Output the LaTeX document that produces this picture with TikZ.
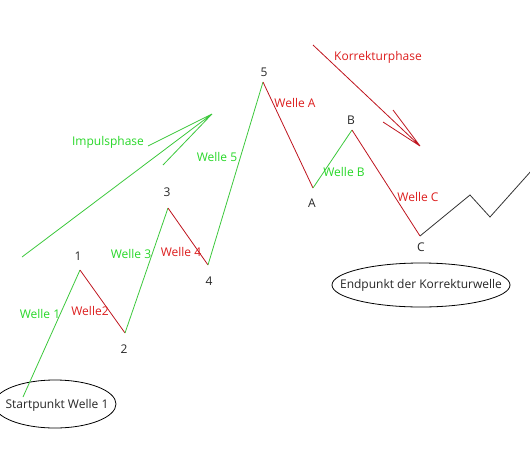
\documentclass[tikz,border=0pt]{standalone}
\usepackage{fontspec}
\setmainfont{Open Sans}
\definecolor{gtxt}{RGB}{40,215,40}
\definecolor{gline}{RGB}{60,200,60}
\definecolor{rtxt}{RGB}{220,30,30}
\definecolor{rline}{RGB}{190,20,30}
\begin{document}
\begin{tikzpicture}[x=1pt,y=-1pt,
  gl/.style={draw=gline, line width=0.8pt},
  rl/.style={draw=rline, line width=0.8pt},
  kl/.style={draw=black!80, line width=0.8pt},
  gt/.style={text=gtxt, font=\fontsize{12}{14}\selectfont},
  rt/.style={text=rtxt, font=\fontsize{12}{14}\selectfont},
  nt/.style={text=black!85, font=\fontsize{12}{14}\selectfont}]
\useasboundingbox (0,0) rectangle (530,450);
% wave points
\coordinate (S) at (23,397);
\coordinate (P1) at (80,270);
\coordinate (P2) at (125,333);
\coordinate (P3) at (168,208);
\coordinate (P4) at (208,265);
\coordinate (P5) at (263,82);
\coordinate (PA) at (313,188);
\coordinate (PB) at (352,130);
\coordinate (PC) at (420,236);
\coordinate (Q1) at (470,195);
\coordinate (Q2) at (490,217);
\coordinate (Q3) at (532,170);
% ellipses
\draw[line width=0.8pt] (55,404) ellipse [x radius=61, y radius=24];
\node[nt] (st) at (57,405) {Startpunkt Welle 1};
\draw[line width=0.8pt] (421,285) ellipse [x radius=89, y radius=22];
\node[nt] (en) at (421,285) {Endpunkt der Korrekturwelle};
% wave
\draw[gl] (S) -- (P1);
\draw[rl] (P1) -- (P2);
\draw[gl] (P2) -- (P3);
\draw[rl] (P3) -- (P4);
\draw[gl] (P4) -- (P5);
\draw[rl] (P5) -- (PA);
\draw[gl] (PA) -- (PB);
\draw[rl] (PB) -- (PC);
\draw[kl] (PC) -- (Q1) -- (Q2) -- (Q3);
% point labels
\node[nt] (l1) at (78,256) {1};
\node[nt] (l2) at (124,349) {2};
\node[nt] (l3) at (167,192) {3};
\node[nt] (l4) at (209,281) {4};
\node[nt] (l5) at (264,72) {5};
\node[nt] (lA) at (312,203) {A};
\node[nt] (lB) at (351,120) {B};
\node[nt] (lC) at (421,247) {C};
% wave labels
\node[gt] (w1) at (40,314) {Welle 1};
\node[rt] (w2) at (90,311) {Welle2};
\node[gt] (w3) at (131,254) {Welle 3};
\node[rt] (w4) at (181,252) {Welle 4};
\node[gt] (w5) at (217,157) {Welle 5};
\node[rt] (wA) at (295,103) {Welle A};
\node[gt] (wB) at (344,172) {Welle B};
\node[rt] (wC) at (418,197) {Welle C};
% phase arrows
\coordinate (IT) at (212,114);
\coordinate (I0) at (22,257);
\coordinate (I1) at (148,146);
\coordinate (I2) at (163,165);
\draw[gl] (I0) -- (IT) (I1) -- (IT) (I2) -- (IT);
\node[gt] (ip) at (108,142) {Impulsphase};
\coordinate (KT) at (420,146);
\coordinate (K0) at (313,45);
\coordinate (K1) at (393,110);
\coordinate (K2) at (383,122);
\draw[rl] (K0) -- (KT) (K1) -- (KT) (K2) -- (KT);
\node[rt] (kp) at (378,57) {Korrekturphase};
\end{tikzpicture}
\end{document}
